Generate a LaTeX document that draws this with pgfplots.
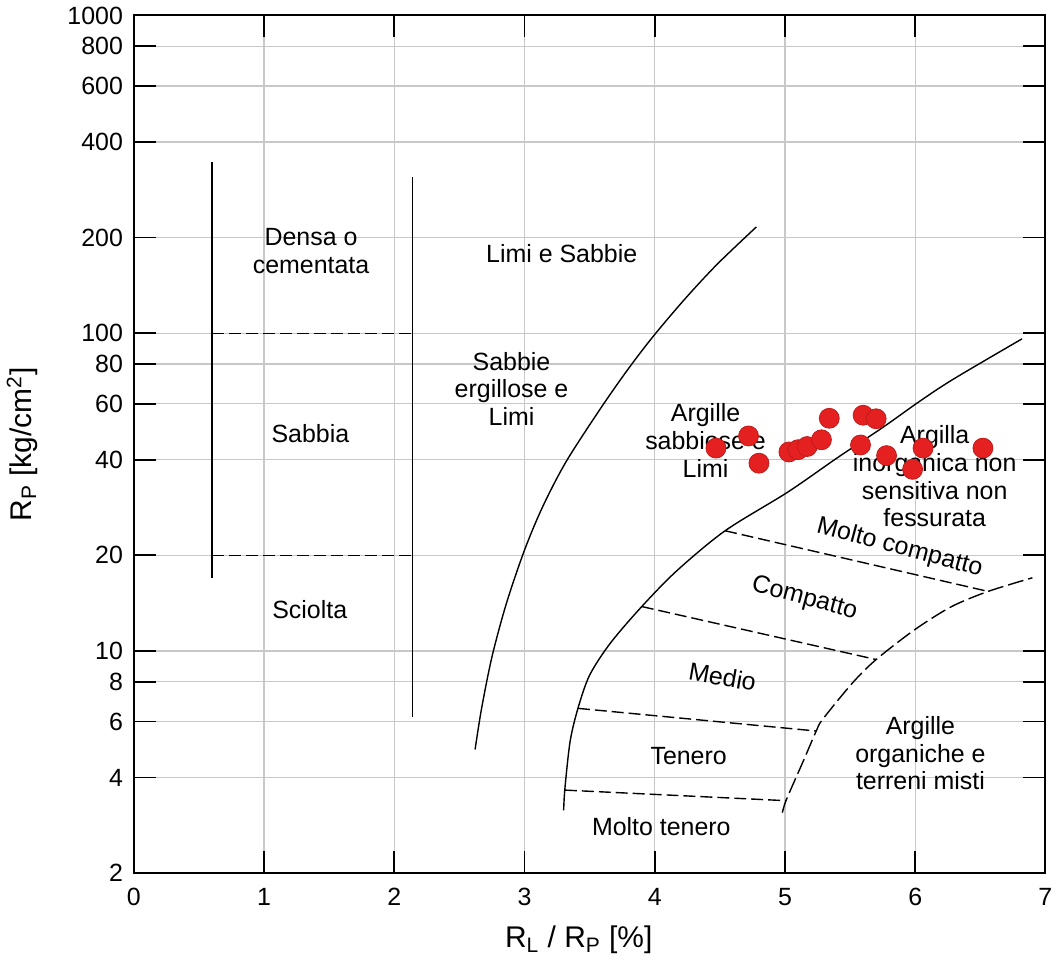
\documentclass[border=0pt]{standalone}
\usepackage{pgfplots}
\pgfplotsset{compat=1.18}
\usepackage{fontspec}
\setmainfont{Liberation Sans}

\definecolor{ptred}{RGB}{228,32,32}
\definecolor{gridgray}{RGB}{200,200,200}
\tikzset{lbl/.style={font=\fontsize{12.5}{14}\selectfont, align=center, inner sep=0pt}}

% Boundary between "Limi e Sabbie" and the sandy-clay / silt field
\pgfplotstableread{
x y
2.62 4.9
2.67 6.6
2.75 9.6
2.86 14.1
3.00 20.8
3.14 28.5
3.32 39.5
3.59 58.5
3.80 77.6
3.99 98
4.23 128
4.48 165
4.78 216
}\curveA

% Boundary of the inorganic clay field
\pgfplotstableread{
x y
3.30 3.15
3.31 3.7
3.35 5.2
3.41 6.6
3.50 8.4
3.66 10.6
3.90 13.8
4.17 17.9
4.54 23.9
5.02 31.6
5.40 40.5
5.75 50.5
6.04 61.3
6.30 72
6.82 96
}\curveB

% Boundary of organic clays and mixed soils
\pgfplotstableread{
x y
4.98 3.1
5.01 3.4
5.14 4.5
5.24 5.6
5.29 6.1
5.52 7.95
5.70 9.4
6.00 11.7
6.28 13.8
6.56 15.4
6.90 17.0
}\curveC

% Measured CPT points
\pgfplotstableread{
x y
4.47 43.5
4.72 47.5
4.80 39.0
5.03 42.3
5.10 43.0
5.17 44.0
5.28 46.2
5.34 54.0
5.60 55.2
5.70 53.8
5.58 44.5
5.78 41.2
5.98 37.3
6.06 43.5
6.52 43.5
}\points

\begin{document}
\begin{tikzpicture}
\begin{axis}[
  scale only axis, width=457pt, height=430pt,
  xmin=0, xmax=7, ymode=log, ymin=2, ymax=1000,
  xtick={0,1,...,7},
  ytick={2,4,6,8,10,20,40,60,80,100,200,400,600,800,1000},
  yticklabels={2,4,6,8,10,20,40,60,80,100,200,400,600,800,1000},
  yminorticks=false,
  grid=major,
  major grid style={draw=gridgray, line width=0.7pt},
  tick align=inside,
  major tick length=11pt,
  tick style={black, line width=0.9pt},
  axis line style={black, line width=1pt},
  /pgf/number format/assume math mode=true,
  tick label style={font=\fontsize{12.5}{14}\selectfont},
  xticklabel style={yshift=-4pt},
  yticklabel style={xshift=-2pt},
  xlabel={R\textsubscript{L} / R\textsubscript{P} [\%]},
  ylabel={R\textsubscript{P} [kg/cm\textsuperscript{2}]},
  label style={font=\fontsize{15}{18}\selectfont},
  xlabel style={at={(axis description cs:0.488,-0.078)}, anchor=center},
  ylabel style={at={(axis description cs:-0.1225,0.5)}, anchor=center},
]

% sand density bands
\addplot[black, line width=0.7pt] coordinates {(0.60,17) (0.60,345)};
\addplot[black, line width=0.7pt] coordinates {(2.14,6.2) (2.14,310)};
\addplot[black, line width=0.7pt, dash pattern=on 6pt off 2.5pt] coordinates {(0.60,100) (2.14,100)};
\addplot[black, line width=0.7pt, dash pattern=on 6pt off 2.5pt] coordinates {(0.60,20) (2.14,20)};

% soil type boundaries
\addplot[black, line width=0.7pt, smooth] table {\curveA};
\addplot[black, line width=0.7pt, smooth] table {\curveB};
\addplot[black, line width=0.7pt, smooth, dash pattern=on 8pt off 2.5pt] table {\curveC};

% consistency bands
\addplot[black, line width=0.7pt, dash pattern=on 6pt off 2.5pt] coordinates {(4.54,23.9) (6.56,15.4)};
\addplot[black, line width=0.7pt, dash pattern=on 6pt off 2.5pt] coordinates {(3.90,13.8) (5.70,9.4)};
\addplot[black, line width=0.7pt, dash pattern=on 6pt off 2.5pt] coordinates {(3.41,6.6) (5.24,5.6)};
\addplot[black, line width=0.7pt, dash pattern=on 6pt off 2.5pt] coordinates {(3.31,3.65) (5.01,3.38)};

% field names
\node[lbl] at (axis cs:1.36,181) {Densa o\\cementata};
\node[lbl] at (axis cs:1.355,48.3) {Sabbia};
\node[lbl] at (axis cs:1.35,13.5) {Sciolta};
\node[lbl] at (axis cs:3.285,178) {Limi e Sabbie};
\node[lbl] at (axis cs:2.90,66.8) {Sabbie\\ergillose e\\Limi};
\node[lbl] at (axis cs:4.39,46) {Argille\\sabbiose e\\Limi};
\node[lbl] at (axis cs:6.15,35.5) {Argilla\\inorganica non\\sensitiva non\\fessurata};
\node[lbl, rotate=-15] at (axis cs:5.88,21.1) {Molto compatto};
\node[lbl, rotate=-15] at (axis cs:5.15,14.6) {Compatto};
\node[lbl, rotate=-10] at (axis cs:4.52,8.3) {Medio};
\node[lbl] at (axis cs:4.26,4.66) {Tenero};
\node[lbl] at (axis cs:4.05,2.8) {Molto tenero};
\node[lbl] at (axis cs:6.04,4.77) {Argille\\organiche e\\terreni misti};

% measurements
\addplot[only marks, mark=*, mark size=5pt,
  mark options={fill=ptred, draw=ptred!85!black, line width=0.4pt}] table {\points};
\end{axis}
\path ([shift={(-67pt,-46pt)}]current axis.south west) rectangle ([shift={(5.5pt,6.5pt)}]current axis.north east);
\end{tikzpicture}
\end{document}
